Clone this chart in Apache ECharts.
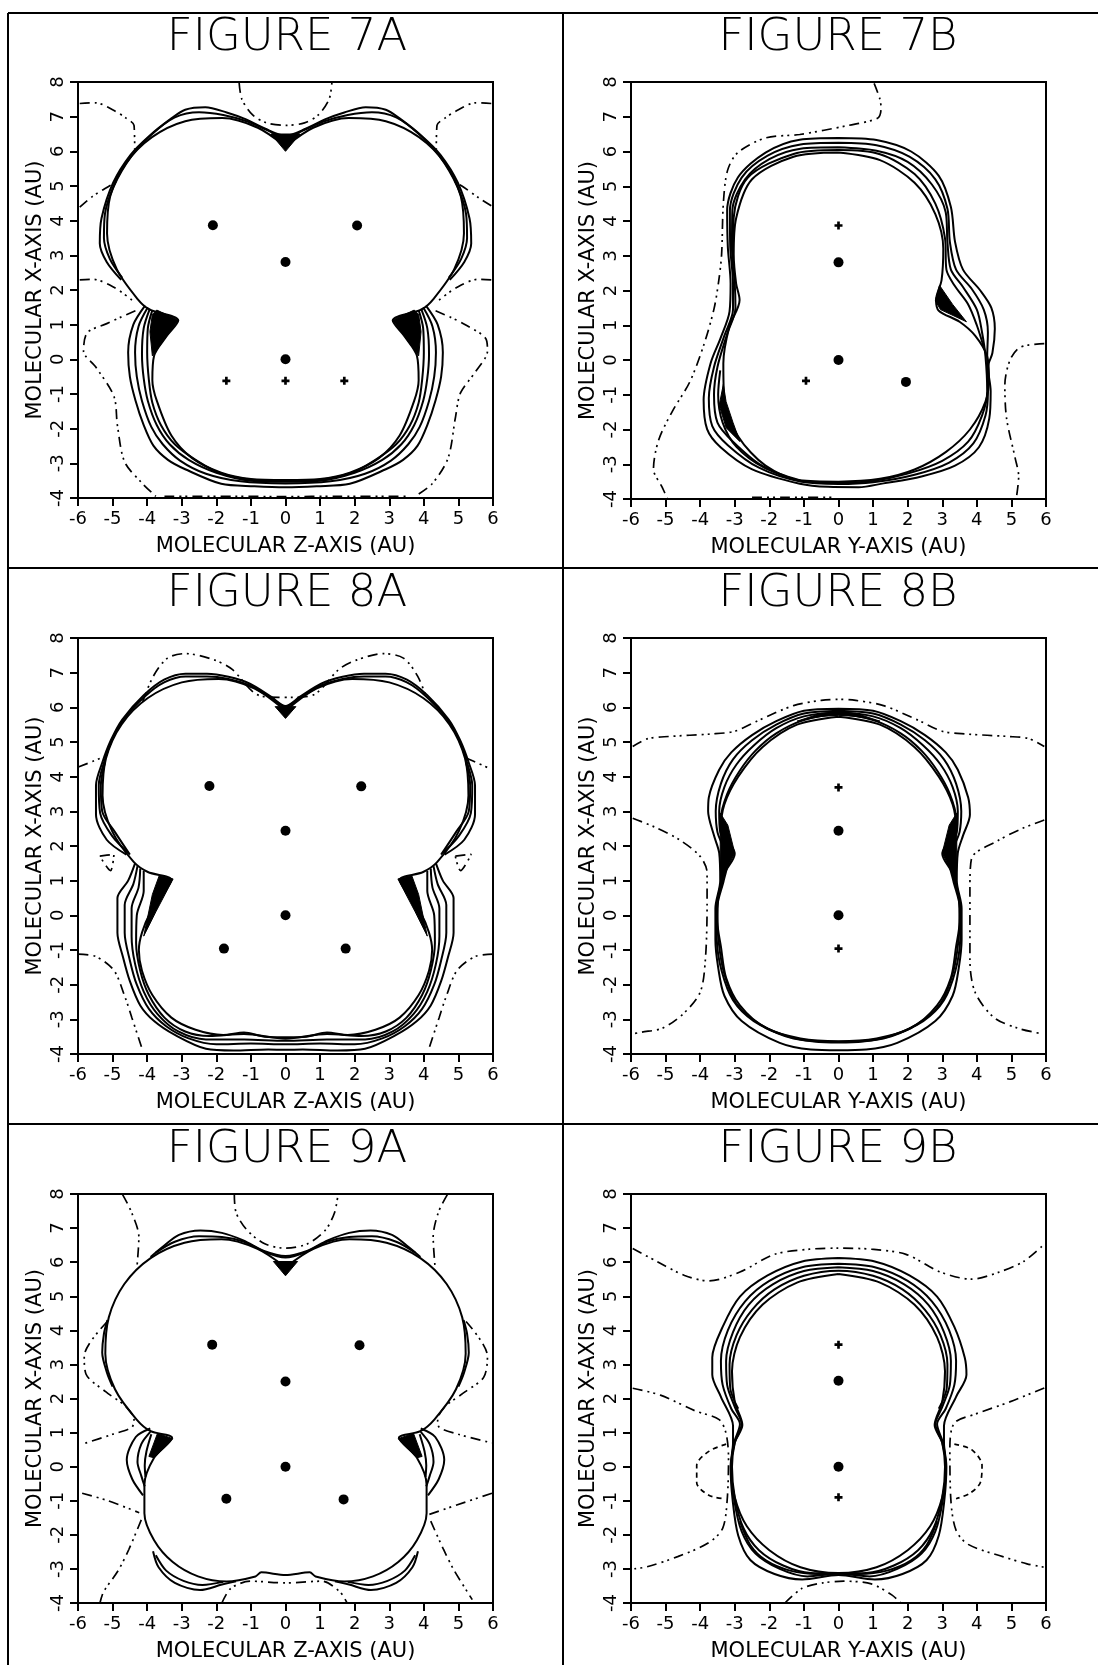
<!DOCTYPE html>
<html><head><meta charset="utf-8">
<script src="https://cdn.jsdelivr.net/npm/echarts/dist/echarts.min.js"></script>
<style>html,body{margin:0;padding:0;background:#fff}#c{width:1098px;height:1665px}</style>
</head><body><div id="c"></div>
<script>
// ---------- axis ranges / tick labels ----------
const xRange = [-6, 6];
const yRange = [-4, 8];
const titles = ['FIGURE 7A','FIGURE 7B','FIGURE 8A','FIGURE 8B','FIGURE 9A','FIGURE 9B'];
const xNames = ['MOLECULAR Z-AXIS (AU)','MOLECULAR Y-AXIS (AU)','MOLECULAR Z-AXIS (AU)','MOLECULAR Y-AXIS (AU)','MOLECULAR Z-AXIS (AU)','MOLECULAR Y-AXIS (AU)'];
const yName = 'MOLECULAR X-AXIS (AU)';

// ---------- FIGURE 7A ----------
const f7A_dots = [[-2.1,3.87],[2.07,3.86],[0,2.81],[0,0]];
const f7A_plus = [[-1.71,-0.62],[0,-0.62],[1.7,-0.62]];
const f7A_outline = [[0,6.14],[0.8,6.68],[1.83,6.96],[2.9,6.87],[3.86,6.41],[4.61,5.66],[5.07,4.7],[5.16,3.63],[4.88,2.6],[4.27,1.73],[3.95,1.45],[3.1,1.12],[3.45,0.65],[3.8,0.1],[3.85,-0.6],[3.72,-1.2],[3.3,-2.2],[2.7,-2.85],[1.86,-3.27],[1.0,-3.45],[0,-3.48],[-1.0,-3.45],[-1.86,-3.27],[-2.7,-2.85],[-3.3,-2.2],[-3.72,-1.2],[-3.85,-0.6],[-3.8,0.1],[-3.45,0.65],[-3.1,1.12],[-3.95,1.45],[-4.27,1.73],[-4.88,2.6],[-5.16,3.63],[-5.07,4.7],[-4.61,5.66],[-3.86,6.41],[-2.9,6.87],[-1.83,6.96],[-0.8,6.68],[0,6.14]];
const f7A_up1 = [[-4.75,2.29],[-5.17,2.81],[-5.37,3.34],[-5.32,4.07],[-4.98,5.1],[-4.48,5.9],[-3.93,6.45],[-3.3,6.95],[-2.9,7.2],[-2.32,7.27],[-1.7,7.12],[-1.14,6.92],[-0.6,6.66],[0,6.45],[0.6,6.66],[1.14,6.92],[1.7,7.12],[2.32,7.27],[2.9,7.2],[3.3,6.95],[3.93,6.45],[4.48,5.9],[4.98,5.1],[5.32,4.07],[5.37,3.34],[5.17,2.81],[4.75,2.29]];
const f7A_up2 = [[-4.72,2.35],[-5.08,2.9],[-5.25,3.5],[-5.22,4.2],[-4.96,5.0],[-4.46,5.85],[-3.88,6.48],[-3.2,6.98],[-2.5,7.13],[-1.8,7.05],[-1.1,6.86],[-0.55,6.62],[0,6.4],[0.55,6.62],[1.1,6.86],[1.8,7.05],[2.5,7.13],[3.2,6.98],[3.88,6.48],[4.46,5.85],[4.96,5.0],[5.22,4.2],[5.25,3.5],[5.08,2.9],[4.72,2.35]];
const f7A_low1 = [[-4.06,1.55],[-4.4,1.0],[-4.55,0.2],[-4.5,-0.5],[-4.34,-1.18],[-4.1,-1.9],[-3.82,-2.49],[-3.4,-2.9],[-2.9,-3.17],[-1.86,-3.59],[-0.9,-3.66],[0,-3.69],[0.9,-3.66],[1.86,-3.59],[2.9,-3.17],[3.4,-2.9],[3.82,-2.49],[4.1,-1.9],[4.34,-1.18],[4.5,-0.5],[4.55,0.2],[4.4,1.0],[4.06,1.55]];
const f7A_low2 = [[-3.98,1.5],[-4.25,0.95],[-4.35,0.2],[-4.3,-0.5],[-4.15,-1.2],[-3.88,-1.95],[-3.55,-2.45],[-3.05,-2.92],[-2.3,-3.3],[-1.3,-3.52],[0,-3.58],[1.3,-3.52],[2.3,-3.3],[3.05,-2.92],[3.55,-2.45],[3.88,-1.95],[4.15,-1.2],[4.3,-0.5],[4.35,0.2],[4.25,0.95],[3.98,1.5]];
const f7A_low3 = [[-3.92,1.46],[-4.1,0.9],[-4.15,0.15],[-4.1,-0.55],[-3.98,-1.2],[-3.72,-1.9],[-3.35,-2.45],[-2.8,-2.9],[-2.0,-3.27],[-1.0,-3.5],[0,-3.53],[1.0,-3.5],[2.0,-3.27],[2.8,-2.9],[3.35,-2.45],[3.72,-1.9],[3.98,-1.2],[4.1,-0.55],[4.15,0.15],[4.1,0.9],[3.92,1.46]];
const f7A_low4 = [[-3.85,1.42],[-3.98,0.9],[-4.0,0.2],[-3.95,-0.6],[-3.85,-1.25],[-3.6,-1.9],[-3.2,-2.45],[-2.6,-2.9],[-1.9,-3.28],[-1.0,-3.47],[0,-3.5],[1.0,-3.47],[1.9,-3.28],[2.6,-2.9],[3.2,-2.45],[3.6,-1.9],[3.85,-1.25],[3.95,-0.6],[4.0,0.2],[3.98,0.9],[3.85,1.42]];
const f7A_dd1 = [[-1.34,7.97],[-1.26,7.5],[-0.95,7.05],[-0.55,6.82],[0,6.75],[0.55,6.82],[0.95,7.05],[1.26,7.5],[1.34,7.97]];
const f7A_dd2 = [[-5.95,7.38],[-5.5,7.4],[-5.0,7.2],[-4.6,6.95],[-4.38,6.75],[-4.36,6.05]];
const f7A_dd3 = [[5.95,7.38],[5.5,7.4],[5.0,7.2],[4.6,6.95],[4.38,6.75],[4.36,6.05]];
const f7A_dd4 = [[-5.95,4.39],[-5.58,4.7],[-5.06,5.02],[-4.9,5.12]];
const f7A_dd5 = [[5.95,4.43],[5.6,4.65],[5.1,5.0],[4.9,5.12]];
const f7A_dd6 = [[-5.95,2.29],[-5.58,2.31],[-4.96,2.08],[-4.44,1.71]];
const f7A_dd7 = [[5.95,2.29],[5.58,2.31],[4.96,2.08],[4.44,1.71]];
const f7A_dd8 = [[-4.34,1.4],[-4.8,1.2],[-5.17,1.03],[-5.73,0.77],[-5.84,0.24],[-5.48,-0.23],[-4.96,-1.07],[-4.86,-1.91],[-4.65,-2.96],[-4.13,-3.59],[-3.75,-3.95]];
const f7A_dd9 = [[4.34,1.4],[4.8,1.2],[5.2,1.0],[5.79,0.6],[5.84,0.24],[5.5,-0.35],[5.06,-0.97],[4.91,-1.7],[4.7,-2.85],[4.24,-3.59],[3.75,-3.95]];
const f7A_dd10 = [[-3.5,-3.95],[-1.5,-3.95],[0,-3.96],[1.5,-3.95],[3.5,-3.95]];
const f7A_fillL = [[-3.72,1.42],[-3.1,1.13],[-3.45,0.65],[-3.85,0.1],[-3.92,0.8],[-3.85,1.3]];
const f7A_fillR = [[3.72,1.42],[3.1,1.13],[3.45,0.65],[3.85,0.1],[3.92,0.8],[3.85,1.3]];
const f7A_fillN = [[-0.42,6.5],[0.42,6.5],[0,6.0]];

// ---------- FIGURE 7B ----------
const f7B_dots = [[0,2.81],[0,0],[1.95,-0.63]];
const f7B_plus = [[0,3.87],[-0.94,-0.6]];
const f7B_outline = [[0,5.97],[1.2,5.75],[2.2,5.1],[2.8,4.2],[3.03,3.2],[2.98,2.3],[2.82,1.73],[2.9,1.42],[3.5,1.1],[3.95,0.7],[4.3,0.1],[4.35,-0.5],[4.25,-1.2],[3.8,-2.0],[3.1,-2.65],[2.2,-3.15],[1.2,-3.42],[0,-3.5],[-1.12,-3.46],[-2.11,-3.04],[-2.9,-2.2],[-3.3,-1.15],[-3.33,-0.1],[-3.16,0.94],[-2.86,1.73],[-2.96,2.2],[-3.03,3.04],[-2.96,4.08],[-2.5,5.2],[-1.3,5.85],[0,5.97]];
const f7B_c1 = [[0,6.39],[1.1,6.33],[2.1,6.0],[2.9,5.3],[3.25,4.4],[3.37,3.4],[3.6,2.6],[4.1,2.0],[4.42,1.5],[4.52,0.9],[4.45,0.2],[4.32,-0.2],[4.4,-0.9],[4.36,-1.68],[4.06,-2.51],[3.37,-3.04],[2.4,-3.35],[1.3,-3.55],[0.58,-3.66],[-0.3,-3.65],[-1.12,-3.56],[-2.51,-3.14],[-3.41,-2.51],[-3.8,-1.99],[-3.9,-1.15],[-3.7,-0.1],[-3.41,0.63],[-3.15,1.4],[-3.12,2.2],[-3.2,3.25],[-3.22,4.3],[-2.91,5.25],[-2.11,5.97],[-1.12,6.34],[0,6.39]];
const f7B_c2 = [[0,6.25],[1.1,6.18],[2.05,5.85],[2.8,5.2],[3.15,4.35],[3.22,3.4],[3.4,2.6],[3.85,2.05],[4.2,1.45],[4.32,0.8],[4.3,0.1],[4.32,-0.9],[4.25,-1.6],[3.9,-2.4],[3.2,-2.95],[2.2,-3.3],[1.0,-3.52],[0,-3.57],[-1.1,-3.5],[-2.3,-3.1],[-3.2,-2.45],[-3.65,-1.9],[-3.75,-1.1],[-3.6,-0.2],[-3.3,0.7],[-3.05,1.45],[-3.05,2.2],[-3.13,3.25],[-3.14,4.3],[-2.8,5.25],[-2.05,5.88],[-1.1,6.2],[0,6.25]];
const f7B_c3 = [[0,6.12],[1.1,6.02],[2.0,5.7],[2.7,5.05],[3.1,4.25],[3.15,3.4],[3.25,2.6],[3.6,2.1],[4.0,1.45],[4.15,0.8],[4.25,0.1],[4.3,-0.9],[4.15,-1.6],[3.75,-2.35],[3.0,-2.9],[2.0,-3.27],[1.0,-3.48],[0,-3.53],[-1.1,-3.48],[-2.2,-3.05],[-3.05,-2.35],[-3.5,-1.8],[-3.6,-1.0],[-3.5,-0.2],[-3.22,0.75],[-2.98,1.5],[-3.0,2.2],[-3.08,3.2],[-3.07,4.3],[-2.7,5.2],[-2.0,5.78],[-1.1,6.08],[0,6.12]];
const f7B_c4 = [[-3.05,3.0],[-3.03,4.1],[-2.62,5.25],[-1.3,5.93],[0,6.04],[1.2,5.92],[2.2,5.35],[2.8,4.5],[3.08,3.5],[3.12,2.6],[3.35,2.15],[3.75,1.6],[4.0,1.0],[4.22,0.3]];
const f7B_c5 = [[-3.42,-0.3],[-3.48,-1.0],[-3.35,-1.8],[-2.95,-2.5],[-2.15,-3.1],[-1.1,-3.47]];
const f7B_dd1 = [[1.03,7.96],[1.2,7.5],[1.23,7.23],[1.13,6.96],[0.28,6.75],[-1.12,6.49],[-2.11,6.39],[-2.91,5.97],[-3.21,5.45],[-3.33,4.5],[-3.38,3.04],[-3.46,2.3],[-3.6,1.47],[-3.9,0.42],[-4.3,-0.63],[-4.8,-1.47],[-5.2,-2.3],[-5.35,-3.14],[-5.1,-3.66],[-4.95,-3.98]];
const f7B_dd2 = [[5.95,0.47],[5.26,0.37],[4.96,0.0],[4.81,-0.73],[4.86,-1.68],[5.11,-2.83],[5.21,-3.35],[5.14,-3.98]];
const f7B_dd3 = [[-2.5,-3.95],[-1.5,-3.95],[-0.2,-3.95]];
const f7B_fillR = [[2.92,2.15],[2.8,1.7],[2.95,1.45],[3.7,1.1],[3.3,1.6]];
const f7B_fillL = [[-3.33,-0.7],[-3.45,-1.3],[-3.25,-1.95],[-2.85,-2.35],[-3.05,-1.8],[-3.25,-1.2]];

// ---------- FIGURE 8A ----------
const f8A_dots = [[-2.2,3.73],[2.19,3.72],[0,2.44],[0,0],[-1.78,-0.96],[1.74,-0.96]];
const f8A_plus = [];
const f8A_outline = [[0,5.9],[0.89,6.54],[1.93,6.82],[3.0,6.72],[3.98,6.27],[4.74,5.51],[5.19,4.53],[5.29,3.46],[5.01,2.42],[4.39,1.54],[3.98,1.25],[3.3,1.03],[3.55,0.6],[3.9,0.1],[4.15,-0.5],[4.24,-1.0],[4.15,-1.6],[3.85,-2.3],[3.3,-2.95],[2.6,-3.3],[1.8,-3.45],[1.2,-3.38],[0.6,-3.5],[0,-3.52],[-0.6,-3.5],[-1.2,-3.38],[-1.8,-3.45],[-2.6,-3.3],[-3.3,-2.95],[-3.85,-2.3],[-4.15,-1.6],[-4.24,-1.0],[-4.15,-0.5],[-3.9,0.1],[-3.55,0.6],[-3.3,1.03],[-3.98,1.25],[-4.39,1.54],[-5.01,2.42],[-5.29,3.46],[-5.19,4.53],[-4.74,5.51],[-3.98,6.27],[-3.0,6.72],[-1.93,6.82],[-0.89,6.54],[0,5.9]];
const f8A_up1 = [[-4.6,1.75],[-5.17,2.18],[-5.48,2.91],[-5.48,3.75],[-5.3,4.4],[-5.05,5.05],[-4.72,5.65],[-4.1,6.35],[-3.51,6.8],[-2.89,6.97],[-2.27,6.97],[-1.65,6.88],[-1.03,6.68],[-0.41,6.3],[0,6.04],[0.41,6.3],[1.03,6.68],[1.65,6.88],[2.27,6.97],[2.89,6.97],[3.51,6.8],[4.1,6.35],[4.72,5.65],[5.05,5.05],[5.3,4.4],[5.48,3.75],[5.48,2.91],[5.17,2.18],[4.6,1.75]];
const f8A_up2 = [[-4.55,1.8],[-5.02,2.3],[-5.36,2.95],[-5.4,3.75],[-5.25,4.4],[-5.02,5.05],[-4.68,5.65],[-4.06,6.32],[-3.51,6.72],[-2.89,6.89],[-2.27,6.89],[-1.65,6.82],[-1.03,6.63],[-0.41,6.27],[0,6.02],[0.41,6.27],[1.03,6.63],[1.65,6.82],[2.27,6.89],[2.89,6.89],[3.51,6.72],[4.06,6.32],[4.68,5.65],[5.02,5.05],[5.25,4.4],[5.4,3.75],[5.36,2.95],[5.02,2.3],[4.55,1.8]];
const f8A_up3L = [[-4.5,1.75],[-4.93,2.4],[-5.3,3.0],[-5.34,3.75],[-5.22,4.4]];
const f8A_up3R = [[4.5,1.75],[4.93,2.4],[5.3,3.0],[5.34,3.75],[5.22,4.4]];
const f8A_low1 = [[-4.35,1.5],[-4.55,1.0],[-4.86,0.5],[-4.86,0.19],[-4.86,-0.5],[-4.7,-1.2],[-4.5,-1.9],[-4.2,-2.6],[-3.8,-3.05],[-3.2,-3.45],[-2.3,-3.85],[-1.5,-3.9],[-0.5,-3.87],[0,-3.88],[0.5,-3.87],[1.5,-3.9],[2.3,-3.85],[3.2,-3.45],[3.8,-3.05],[4.2,-2.6],[4.5,-1.9],[4.7,-1.2],[4.86,-0.5],[4.86,0.19],[4.86,0.5],[4.55,1.0],[4.35,1.5]];
const f8A_low2 = [[-4.28,1.42],[-4.4,0.9],[-4.65,0.3],[-4.65,-0.5],[-4.5,-1.3],[-4.3,-2.0],[-3.95,-2.7],[-3.45,-3.2],[-2.8,-3.55],[-2.0,-3.72],[-1.0,-3.7],[0,-3.72],[1.0,-3.7],[2.0,-3.72],[2.8,-3.55],[3.45,-3.2],[3.95,-2.7],[4.3,-2.0],[4.5,-1.3],[4.65,-0.5],[4.65,0.3],[4.4,0.9],[4.28,1.42]];
const f8A_low3 = [[-4.2,1.35],[-4.25,0.8],[-4.45,0.2],[-4.45,-0.6],[-4.35,-1.4],[-4.1,-2.2],[-3.7,-2.85],[-3.1,-3.35],[-2.3,-3.58],[-1.2,-3.58],[0,-3.62],[1.2,-3.58],[2.3,-3.58],[3.1,-3.35],[3.7,-2.85],[4.1,-2.2],[4.35,-1.4],[4.45,-0.6],[4.45,0.2],[4.25,0.8],[4.2,1.35]];
const f8A_low4 = [[-4.1,1.28],[-4.1,0.7],[-4.3,0.0],[-4.32,-0.8],[-4.2,-1.6],[-3.95,-2.3],[-3.5,-2.95],[-2.9,-3.35],[-2.2,-3.48],[-1.2,-3.42],[0,-3.56],[1.2,-3.42],[2.2,-3.48],[2.9,-3.35],[3.5,-2.95],[3.95,-2.3],[4.2,-1.6],[4.32,-0.8],[4.3,0.0],[4.1,0.7],[4.1,1.28]];
const f8A_dd1 = [[-4.13,6.16],[-3.82,6.9],[-3.41,7.42],[-2.89,7.55],[-2.07,7.37],[-1.55,7.1],[-0.83,6.37],[-0.21,6.29],[0.21,6.29],[0.83,6.37],[1.55,7.1],[2.07,7.37],[2.84,7.55],[3.41,7.42],[3.82,6.9],[4.08,6.27]];
const f8A_dd2 = [[-5.99,4.28],[-5.58,4.44],[-5.22,4.59]];
const f8A_dd3 = [[5.22,4.54],[5.58,4.38],[5.94,4.22]];
const f8A_dd4 = [[-5.37,1.71],[-4.96,1.76],[-5.06,1.29],[-5.37,1.71]];
const f8A_dd5 = [[4.91,1.71],[5.37,1.76],[5.06,1.29],[4.91,1.71]];
const f8A_dd6 = [[-5.99,-1.12],[-5.48,-1.19],[-4.96,-1.59],[-4.65,-2.33],[-4.44,-2.96],[-4.13,-3.9]];
const f8A_dd7 = [[5.99,-1.12],[5.48,-1.19],[4.96,-1.59],[4.65,-2.33],[4.44,-2.96],[4.13,-3.9]];
const f8A_fillL = [[-3.25,1.05],[-3.65,1.15],[-3.85,0.6],[-4.1,-0.6],[-3.75,0.1]];
const f8A_fillR = [[3.25,1.05],[3.65,1.15],[3.85,0.6],[4.1,-0.6],[3.75,0.1]];
const f8A_fillN = [[-0.3,6.02],[0.3,6.02],[0,5.68]];

// ---------- FIGURE 8B ----------
const f8B_dots = [[0,2.44],[0,0]];
const f8B_plus = [[0,3.69],[0,-0.96]];
const f8B_outline = [[0,5.73],[1.2,5.5],[2.2,4.85],[2.9,4.0],[3.3,3.2],[3.4,2.5],[3.0,1.78],[3.3,1.2],[3.48,0.5],[3.5,-0.2],[3.4,-0.9],[3.25,-1.8],[2.85,-2.6],[2.1,-3.25],[1.1,-3.55],[0,-3.63],[-1.1,-3.55],[-2.1,-3.25],[-2.85,-2.6],[-3.25,-1.8],[-3.4,-0.9],[-3.5,-0.2],[-3.48,0.5],[-3.3,1.2],[-3.0,1.78],[-3.4,2.5],[-3.3,3.2],[-2.9,4.0],[-2.2,4.85],[-1.2,5.5],[0,5.73]];
const f8B_c1 = [[0,5.96],[1.0,5.9],[1.8,5.6],[2.5,5.2],[3.1,4.7],[3.45,4.2],[3.75,3.4],[3.8,2.9],[3.6,2.3],[3.45,1.8],[3.42,1.0],[3.56,0.2],[3.56,-0.7],[3.48,-1.5],[3.3,-2.32],[2.8,-3.05],[1.7,-3.68],[0.8,-3.87],[0,-3.89],[-0.8,-3.87],[-1.7,-3.68],[-2.8,-3.05],[-3.3,-2.32],[-3.48,-1.5],[-3.56,-0.7],[-3.56,0.2],[-3.42,1.0],[-3.45,1.8],[-3.6,2.3],[-3.77,3.0],[-3.75,3.4],[-3.45,4.2],[-3.1,4.7],[-2.5,5.2],[-1.8,5.6],[-1.0,5.9],[0,5.96]];
const f8B_c2 = [[0,5.9],[1.0,5.82],[1.8,5.5],[2.5,5.05],[3.05,4.5],[3.4,3.8],[3.55,3.0],[3.5,2.4],[3.3,1.8],[3.36,1.0],[3.53,0.2],[3.52,-0.7],[3.38,-1.6],[3.05,-2.45],[2.45,-3.05],[1.5,-3.48],[0.7,-3.64],[0,-3.67],[-0.7,-3.64],[-1.5,-3.48],[-2.45,-3.05],[-3.05,-2.45],[-3.38,-1.6],[-3.52,-0.7],[-3.53,0.2],[-3.36,1.0],[-3.3,1.8],[-3.5,2.4],[-3.55,3.0],[-3.4,3.8],[-3.05,4.5],[-2.5,5.05],[-1.8,5.5],[-1.0,5.82],[0,5.9]];
const f8B_c3 = [[0,5.85],[1.0,5.74],[1.8,5.4],[2.45,4.9],[2.95,4.35],[3.3,3.7],[3.45,3.0],[3.42,2.4],[3.15,1.8],[3.32,1.0],[3.51,0.2],[3.46,-0.8],[3.3,-1.7],[2.95,-2.55],[2.25,-3.15],[1.3,-3.55],[0,-3.65],[-1.3,-3.55],[-2.25,-3.15],[-2.95,-2.55],[-3.3,-1.7],[-3.46,-0.8],[-3.51,0.2],[-3.32,1.0],[-3.15,1.8],[-3.42,2.4],[-3.45,3.0],[-3.3,3.7],[-2.95,4.35],[-2.45,4.9],[-1.8,5.4],[-1.0,5.74],[0,5.85]];
const f8B_c4 = [[-3.3,2.3],[-3.4,2.8],[-3.22,3.5],[-2.87,4.15],[-2.4,4.75],[-1.8,5.25],[-1.0,5.63],[0,5.79],[1.0,5.63],[1.8,5.25],[2.4,4.75],[2.87,4.15],[3.22,3.5],[3.4,2.8],[3.3,2.3]];
const f8B_dd1 = [[-5.95,4.87],[-5.5,5.1],[-4.9,5.16],[-3.7,5.23],[-3.0,5.31],[-2.3,5.63],[-1.3,6.05],[-0.5,6.2],[0,6.23],[0.5,6.2],[1.3,6.05],[2.3,5.63],[3.0,5.31],[3.7,5.23],[4.9,5.16],[5.5,5.1],[5.95,4.87]];
const f8B_dd2 = [[-5.95,2.8],[-5.3,2.54],[-4.6,2.18],[-4.0,1.7],[-3.8,1.23],[-3.8,0.29],[-3.85,-1.28],[-4.0,-2.22],[-4.5,-2.85],[-5.1,-3.26],[-5.7,-3.37],[-5.95,-3.42]];
const f8B_dd3 = [[5.95,2.75],[5.3,2.5],[4.6,2.15],[3.85,1.65],[3.8,0.82],[3.8,-1.28],[3.95,-2.22],[4.5,-2.95],[5.2,-3.26],[5.9,-3.42]];
const f8B_fillL = [[-3.42,2.95],[-3.2,2.6],[-3.0,1.8],[-3.25,1.3],[-3.4,0.85],[-3.42,1.8]];
const f8B_fillR = [[3.42,2.95],[3.2,2.6],[3.0,1.8],[3.25,1.3],[3.4,0.85],[3.42,1.8]];
const f8B_fillT = [[-1.2,5.6],[-0.5,5.83],[0,5.88],[0.5,5.83],[1.2,5.6],[0.5,5.74],[0,5.77],[-0.5,5.74]];

// ---------- FIGURE 9A ----------
const f9A_dots = [[-2.12,3.58],[2.14,3.56],[0,2.5],[0,0],[-1.71,-0.94],[1.68,-0.96]];
const f9A_plus = [];
const f9A_outline = [[0,5.85],[0.81,6.39],[1.85,6.67],[2.92,6.57],[3.9,6.12],[4.66,5.36],[5.11,4.38],[5.21,3.31],[4.93,2.27],[4.31,1.39],[3.9,1.04],[3.28,0.85],[3.8,0.26],[4.08,-0.53],[4.08,-1.37],[3.8,-2.16],[3.26,-2.8],[2.53,-3.22],[1.7,-3.37],[0.87,-3.22],[0.7,-3.1],[0,-3.18],[-0.7,-3.1],[-0.87,-3.22],[-1.7,-3.37],[-2.53,-3.22],[-3.26,-2.8],[-3.8,-2.16],[-4.08,-1.37],[-4.08,-0.53],[-3.8,0.26],[-3.28,0.85],[-3.9,1.04],[-4.31,1.39],[-4.93,2.27],[-5.21,3.31],[-5.11,4.38],[-4.66,5.36],[-3.9,6.12],[-2.92,6.57],[-1.85,6.67],[-0.81,6.39],[0,5.85]];
const f9A_up1 = [[-3.9,6.15],[-3.55,6.45],[-3.08,6.8],[-2.46,6.93],[-1.84,6.86],[-1.22,6.64],[-0.6,6.32],[0,6.18],[0.6,6.32],[1.22,6.64],[1.84,6.86],[2.46,6.93],[3.08,6.8],[3.55,6.45],[3.9,6.15]];
const f9A_up2 = [[-3.75,6.28],[-3.2,6.6],[-2.5,6.76],[-1.84,6.74],[-1.2,6.6],[-0.6,6.3],[0,6.14],[0.6,6.3],[1.2,6.6],[1.84,6.74],[2.5,6.76],[3.2,6.6],[3.75,6.28]];
const f9A_sideL = [[-5.15,4.3],[-5.25,3.9],[-5.3,3.35],[-5.16,2.75],[-5.0,2.35]];
const f9A_sideR = [[5.15,4.3],[5.25,3.9],[5.3,3.35],[5.16,2.75],[5.0,2.35]];
const f9A_m1L = [[-3.91,1.12],[-4.33,0.87],[-4.59,0.2],[-4.43,-0.37],[-4.12,-0.84]];
const f9A_m2L = [[-3.91,1.02],[-4.17,0.66],[-4.28,0.14],[-4.17,-0.27],[-4.07,-0.58]];
const f9A_m3L = [[-3.88,0.95],[-4.02,0.45],[-4.07,0.04],[-4.05,-0.3]];
const f9A_m1R = [[3.91,1.12],[4.33,0.87],[4.59,0.2],[4.43,-0.37],[4.12,-0.84]];
const f9A_m2R = [[3.91,1.02],[4.17,0.66],[4.28,0.14],[4.17,-0.27],[4.07,-0.58]];
const f9A_m3R = [[3.88,0.95],[4.02,0.45],[4.07,0.04],[4.05,-0.3]];
const f9A_b1L = [[-3.83,-2.48],[-3.67,-2.95],[-3.2,-3.41],[-2.47,-3.62],[-1.84,-3.46],[-1.43,-3.36]];
const f9A_b2L = [[-3.75,-2.6],[-3.45,-3.05],[-2.95,-3.35],[-2.4,-3.47],[-1.8,-3.38]];
const f9A_b1R = [[3.83,-2.48],[3.67,-2.95],[3.2,-3.41],[2.47,-3.62],[1.84,-3.46],[1.43,-3.36]];
const f9A_b2R = [[3.75,-2.6],[3.45,-3.05],[2.95,-3.35],[2.4,-3.47],[1.8,-3.38]];
const f9A_dd1 = [[-1.48,8.0],[-1.43,7.46],[-1.12,6.95],[-0.6,6.54],[0,6.41],[0.64,6.54],[1.16,6.95],[1.42,7.46],[1.52,8.0]];
const f9A_dd2 = [[-4.71,7.98],[-4.45,7.46],[-4.24,6.74],[-4.29,5.92]];
const f9A_dd3 = [[4.68,7.98],[4.42,7.46],[4.27,6.74],[4.32,5.92]];
const f9A_dd4 = [[-5.15,4.26],[-5.82,3.24],[-5.77,2.72],[-5.2,2.2],[-4.6,1.75],[-4.38,1.38],[-4.45,1.15],[-5.0,0.95],[-5.88,0.66]];
const f9A_dd5 = [[5.22,4.26],[5.84,3.24],[5.73,2.62],[5.2,2.2],[4.6,1.75],[4.4,1.38],[4.45,1.15],[5.0,0.95],[5.95,0.7]];
const f9A_dd6 = [[-5.88,-0.78],[-5.16,-0.99],[-4.23,-1.35]];
const f9A_dd7 = [[-4.17,-1.56],[-4.53,-2.43],[-4.84,-3.05],[-5.26,-3.67],[-5.36,-3.98]];
const f9A_dd8 = [[5.97,-0.78],[5.2,-1.04],[4.16,-1.4]];
const f9A_dd9 = [[4.2,-1.6],[4.57,-2.43],[4.88,-3.05],[5.4,-3.9]];
const f9A_dd10 = [[-1.84,-4.0],[-1.58,-3.57],[-1.01,-3.36],[0,-3.41],[1.05,-3.36],[1.57,-3.67],[1.78,-4.0]];
const f9A_fillL = [[-3.26,0.82],[-3.7,0.98],[-3.95,0.3],[-3.8,0.26]];
const f9A_fillR = [[3.26,0.82],[3.7,0.98],[3.95,0.3],[3.8,0.26]];
const f9A_fillN = [[-0.35,6.02],[0.35,6.02],[0,5.6]];

// ---------- FIGURE 9B ----------
const f9B_dots = [[0,2.52],[0,0]];
const f9B_plus = [[0,3.58],[0,-0.9]];
const f9B_outline = [[0,5.65],[1.2,5.4],[2.2,4.75],[2.85,3.8],[3.08,2.8],[3.0,1.9],[2.78,1.22],[3.0,0.7],[3.1,0.0],[3.0,-0.9],[2.65,-1.75],[2.0,-2.45],[1.1,-2.95],[0,-3.12],[-1.1,-2.95],[-2.0,-2.45],[-2.65,-1.75],[-3.0,-0.9],[-3.1,0.0],[-3.0,0.7],[-2.78,1.22],[-3.0,1.9],[-3.08,2.8],[-2.85,3.8],[-2.2,4.75],[-1.2,5.4],[0,5.65]];
const f9B_c1 = [[0,6.12],[1.05,6.02],[2.05,5.61],[2.85,4.99],[3.35,4.1],[3.65,3.2],[3.7,2.7],[3.4,2.05],[3.05,1.2],[3.05,0.7],[3.12,0.0],[3.06,-0.99],[2.9,-2.02],[2.55,-2.74],[1.85,-3.15],[1.05,-3.31],[0,-3.18],[-1.05,-3.31],[-1.85,-3.15],[-2.55,-2.74],[-2.9,-2.02],[-3.06,-0.99],[-3.12,0.0],[-3.05,0.7],[-3.05,1.2],[-3.4,2.05],[-3.65,2.7],[-3.65,3.2],[-3.35,4.1],[-2.85,4.99],[-2.05,5.61],[-1.05,6.02],[0,6.12]];
const f9B_c2 = [[0,5.95],[1.05,5.85],[2.0,5.45],[2.7,4.85],[3.2,4.0],[3.4,3.1],[3.35,2.4],[3.1,1.7],[2.85,1.25],[3.02,0.7],[3.1,0.0],[3.02,-0.95],[2.8,-1.9],[2.4,-2.55],[1.7,-3.0],[0.9,-3.22],[0,-3.14],[-0.9,-3.22],[-1.7,-3.0],[-2.4,-2.55],[-2.8,-1.9],[-3.02,-0.95],[-3.1,0.0],[-3.02,0.7],[-2.85,1.25],[-3.1,1.7],[-3.35,2.4],[-3.4,3.1],[-3.2,4.0],[-2.7,4.85],[-2.0,5.45],[-1.05,5.85],[0,5.95]];
const f9B_c3 = [[0,5.85],[1.0,5.74],[1.9,5.35],[2.6,4.75],[3.05,3.95],[3.25,3.1],[3.22,2.4],[3.0,1.75],[2.8,1.25],[3.0,0.7],[3.08,0.0],[3.0,-0.9],[2.75,-1.8],[2.3,-2.45],[1.6,-2.9],[0.8,-3.12],[0,-3.13],[-0.8,-3.12],[-1.6,-2.9],[-2.3,-2.45],[-2.75,-1.8],[-3.0,-0.9],[-3.08,0.0],[-3.0,0.7],[-2.8,1.25],[-3.0,1.75],[-3.22,2.4],[-3.25,3.1],[-3.05,3.95],[-2.6,4.75],[-1.9,5.35],[-1.0,5.74],[0,5.85]];
const f9B_c4 = [[-2.9,1.7],[-3.13,2.3],[-3.15,3.0],[-2.95,3.85],[-2.5,4.6],[-1.85,5.2],[-1.0,5.6],[0,5.75],[1.0,5.6],[1.85,5.2],[2.5,4.6],[2.95,3.85],[3.15,3.0],[3.13,2.3],[2.9,1.7]];
const f9B_c5 = [[-2.85,-1.6],[-2.55,-2.3],[-2.1,-2.75],[-1.4,-3.05],[-0.6,-3.15],[0,-3.12],[0.6,-3.15],[1.4,-3.05],[2.1,-2.75],[2.55,-2.3],[2.85,-1.6]];
const f9B_dd1 = [[-5.95,6.4],[-5.25,6.02],[-4.45,5.61],[-3.75,5.45],[-2.85,5.71],[-1.85,6.23],[-0.85,6.38],[0,6.41],[0.95,6.38],[1.95,6.23],[2.95,5.71],[3.85,5.5],[4.65,5.71],[5.35,6.02],[5.95,6.53]];
const f9B_dd2 = [[-5.95,2.3],[-5.15,2.1],[-4.15,1.64],[-3.45,1.38],[-3.25,0.97],[-3.18,0.25],[-3.22,-0.99],[-3.35,-1.81],[-3.75,-2.23],[-4.65,-2.64],[-5.55,-2.94],[-5.95,-3.0]];
const f9B_dd3 = [[5.95,2.31],[4.95,1.9],[3.95,1.54],[3.35,1.28],[3.22,0.56],[3.25,-0.99],[3.4,-1.87],[3.75,-2.28],[4.75,-2.64],[5.45,-2.85],[5.95,-2.95]];
const f9B_dd4 = [[-1.55,-4.0],[-1.05,-3.57],[-0.45,-3.41],[0.15,-3.36],[0.95,-3.44],[1.55,-3.77],[1.8,-4.0]];
const f9B_ds1 = [[-3.25,0.66],[-3.75,0.45],[-4.1,0.04],[-4.1,-0.47],[-3.75,-0.84],[-3.3,-0.94]];
const f9B_ds2 = [[3.35,0.66],[3.85,0.5],[4.15,0.04],[4.1,-0.47],[3.8,-0.78],[3.4,-0.94]];

// ---------- assemble ----------
const panels = [
  {solid:[f7A_outline,f7A_up1,f7A_up2,f7A_low1,f7A_low2,f7A_low3,f7A_low4],
   dashdot:[f7A_dd1,f7A_dd2,f7A_dd3,f7A_dd4,f7A_dd5,f7A_dd6,f7A_dd7,f7A_dd8,f7A_dd9,f7A_dd10], dashed:[],
   fills:[f7A_fillL,f7A_fillR,f7A_fillN], dots:f7A_dots, plus:f7A_plus},
  {solid:[f7B_outline,f7B_c1,f7B_c2,f7B_c3,f7B_c4,f7B_c5],
   dashdot:[f7B_dd1,f7B_dd2,f7B_dd3], dashed:[],
   fills:[f7B_fillR,f7B_fillL], dots:f7B_dots, plus:f7B_plus},
  {solid:[f8A_outline,f8A_up1,f8A_up2,f8A_up3L,f8A_up3R,f8A_low1,f8A_low2,f8A_low3,f8A_low4],
   dashdot:[f8A_dd1,f8A_dd2,f8A_dd3,f8A_dd4,f8A_dd5,f8A_dd6,f8A_dd7], dashed:[],
   fills:[f8A_fillL,f8A_fillR,f8A_fillN], dots:f8A_dots, plus:f8A_plus},
  {solid:[f8B_outline,f8B_c1,f8B_c2,f8B_c3,f8B_c4],
   dashdot:[f8B_dd1,f8B_dd2,f8B_dd3], dashed:[],
   fills:[f8B_fillL,f8B_fillR,f8B_fillT], dots:f8B_dots, plus:f8B_plus},
  {solid:[f9A_outline,f9A_up1,f9A_up2,f9A_sideL,f9A_sideR,f9A_m1L,f9A_m2L,f9A_m3L,f9A_m1R,f9A_m2R,f9A_m3R,f9A_b1L,f9A_b2L,f9A_b1R,f9A_b2R],
   dashdot:[f9A_dd1,f9A_dd2,f9A_dd3,f9A_dd4,f9A_dd5,f9A_dd6,f9A_dd7,f9A_dd8,f9A_dd9,f9A_dd10], dashed:[],
   fills:[f9A_fillL,f9A_fillR,f9A_fillN], dots:f9A_dots, plus:f9A_plus},
  {solid:[f9B_outline,f9B_c1,f9B_c2,f9B_c3,f9B_c4,f9B_c5],
   dashdot:[f9B_dd1,f9B_dd2,f9B_dd3,f9B_dd4], dashed:[f9B_ds1,f9B_ds2],
   fills:[], dots:f9B_dots, plus:f9B_plus}
];

// layout (pixels)
const gridPos = [[78,82,415,416],[631,82,415,417],[78,638,415,416],[631,638,415,416],[78,1194,415,409],[631,1194,415,409]];
const titlePos = [[287,38],[838,38],[287,594],[838,594],[287,1150],[838,1150]];

const SOLID = {color:'#000', width:2, type:'solid'};
const DASHDOT = {color:'#000', width:1.7, type:[10,5,2,4,2,5]};
const DASHED = {color:'#000', width:1.7, type:[5,4]};
const FONT = 'DejaVu Sans';

function mkLine(g, data, style, z){
  return {type:'line', xAxisIndex:g, yAxisIndex:g, data:data, showSymbol:false, symbol:'none',
    smooth:0.3, silent:true, animation:false, clip:true, lineStyle:style, z:z||2};
}
function mkFill(g, pts){
  return {type:'custom', xAxisIndex:g, yAxisIndex:g, data:[pts[0]], silent:true, animation:false, z:4, clip:true,
    renderItem:function(params, api){
      return {type:'polygon', shape:{points:pts.map(function(p){return api.coord(p);})},
        style:{fill:'#000', stroke:'#000', lineWidth:1}};
    }};
}

const series = [];
panels.forEach(function(p,g){
  p.solid.forEach(function(d,i){ series.push(mkLine(g,d,SOLID,i===0?3:2)); });
  p.dashdot.forEach(function(d){ series.push(mkLine(g,d,DASHDOT,2)); });
  p.dashed.forEach(function(d){ series.push(mkLine(g,d,DASHED,2)); });
  p.fills.forEach(function(d){ series.push(mkFill(g,d)); });
  series.push({type:'scatter', xAxisIndex:g, yAxisIndex:g, data:p.dots, symbol:'circle', symbolSize:10,
    itemStyle:{color:'#000', opacity:1}, silent:true, animation:false, z:10});
  if (p.plus.length) series.push({type:'scatter', xAxisIndex:g, yAxisIndex:g, data:p.plus,
    symbol:'path://M3,0H6V3H9V6H6V9H3V6H0V3H3Z', symbolSize:8, itemStyle:{color:'#000', opacity:1}, silent:true, animation:false, z:10});
});

const grids = gridPos.map(function(r){
  return {left:r[0], top:r[1], width:r[2], height:r[3], containLabel:false, outerBoundsMode:'none',
    show:true, borderColor:'#000', borderWidth:2, backgroundColor:'transparent'};
});
const xAxes = gridPos.map(function(r,g){
  return {gridIndex:g, type:'value', min:xRange[0], max:xRange[1], interval:1,
    name:xNames[g], nameLocation:'middle', nameGap:38,
    nameTextStyle:{fontSize:21, color:'#000', fontFamily:FONT},
    axisLine:{show:true, onZero:false, lineStyle:{color:'#000', width:2}},
    axisTick:{show:true, inside:false, length:8, lineStyle:{color:'#000', width:2}},
    axisLabel:{fontSize:18, color:'#000', margin:12, fontFamily:FONT, showMinLabel:true, showMaxLabel:true},
    splitLine:{show:false}};
});
const yAxes = gridPos.map(function(r,g){
  return {gridIndex:g, type:'value', min:yRange[0], max:yRange[1], interval:1,
    name:yName, nameLocation:'middle', nameGap:32,
    nameTextStyle:{fontSize:21, color:'#000', fontFamily:FONT},
    axisLine:{show:true, onZero:false, lineStyle:{color:'#000', width:2}},
    axisTick:{show:true, inside:false, length:8, lineStyle:{color:'#000', width:2}},
    axisLabel:{fontSize:18, color:'#000', margin:11, rotate:90, fontFamily:FONT, showMinLabel:true, showMaxLabel:true},
    splitLine:{show:false}};
});

const graphics = [];
titlePos.forEach(function(t,i){
  graphics.push({type:'text', x:t[0], y:t[1], silent:true,
    style:{text:titles[i], fontSize:45, fontWeight:200, fontFamily:FONT, fill:'#000', align:'center', verticalAlign:'middle'}});
});
const borderLines = [[8,13,8,1665],[8,13,1098,13],[563,13,563,1665],[8,568,1098,568],[8,1124,1098,1124]];
borderLines.forEach(function(l){
  graphics.push({type:'line', silent:true, shape:{x1:l[0],y1:l[1],x2:l[2],y2:l[3]}, style:{stroke:'#000', lineWidth:2}});
});

const chart = echarts.init(document.getElementById('c'), null, {renderer:'canvas'});
chart.setOption({
  animation:false,
  backgroundColor:'#fff',
  grid:grids, xAxis:xAxes, yAxis:yAxes, series:series, graphic:graphics
});
</script></body></html>
